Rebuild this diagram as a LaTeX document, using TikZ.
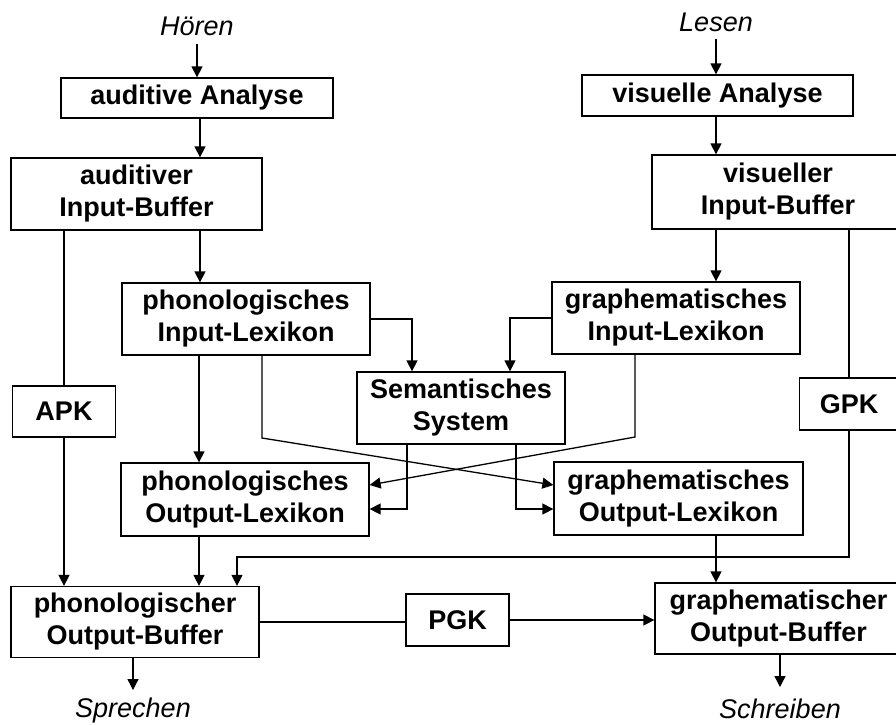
\documentclass[tikz,border=0pt]{standalone}
\usepackage{fontspec}
\setmainfont{Liberation Sans}
\usetikzlibrary{arrows.meta,calc}
\begin{document}
\begin{tikzpicture}[x=1pt,y=-1pt,
  box/.style={draw, line width=1.3pt, inner sep=0pt, align=center, font=\fontsize{27}{32}\selectfont\bfseries},
  lbl/.style={inner sep=0pt, font=\fontsize{27}{32}\selectfont\itshape},
  con/.style={line width=1.3pt},
  arr/.style={con, -{Triangle[length=11pt,width=11pt]}},
]
\clip (0,0) rectangle (896,724);
\fill[white] (0,0) rectangle (896,724);

% labels
\node[lbl] (hoeren) at (197,26) {Hören};
\node[lbl] (lesen) at (716,22) {Lesen};
\node[lbl, anchor=north] (spr) at (133,698) {Sprechen};
\node[lbl, anchor=north] (schr) at (780,699) {Schreiben};

% boxes
\node[box, minimum width=272pt, minimum height=40pt] (aa) at (197,98) {auditive Analyse};
\node[box, minimum width=251pt, minimum height=72pt] (aib) at (136.5,194) {auditiver\\Input-Buffer};
\node[box, minimum width=248pt, minimum height=72pt] (pil) at (246,319) {phonologisches\\Input-Lexikon};
\node[box, minimum width=103pt, minimum height=51pt] (apk) at (64,411.5) {APK};
\node[box, minimum width=208pt, minimum height=72pt] (sem) at (461,408) {Semantisches\\System};
\node[box, minimum width=248pt, minimum height=72pt] (gil) at (676,318) {graphematisches\\Input-Lexikon};
\node[box, minimum width=271pt, minimum height=41pt] (va) at (717.5,95.5) {visuelle Analyse};
\node[box, minimum width=252pt, minimum height=74pt] (vib) at (778,192) {visueller\\Input-Buffer};
\node[box, minimum width=99pt, minimum height=52pt] (gpk) at (849,404) {GPK};
\node[box, minimum width=248pt, minimum height=73pt] (pol) at (245,499.5) {phonologisches\\Output-Lexikon};
\node[box, minimum width=249pt, minimum height=73pt] (gol) at (678.5,498.5) {graphematisches\\Output-Lexikon};
\node[box, minimum width=248pt, minimum height=71pt] (pob) at (135,622) {phonologischer\\Output-Buffer};
\node[box, minimum width=103pt, minimum height=52pt] (pgk) at (457.5,620) {PGK};
\node[box, minimum width=247pt, minimum height=71pt] (gob) at (778.5,618.5) {graphematischer\\Output-Buffer};

% helper coordinates
\coordinate (x199) at (199,0);
\coordinate (x200) at (200,0);
\coordinate (x716) at (716,0);
\coordinate (x407) at (407,0);
\coordinate (x516) at (516,0);
\coordinate (b262) at (262,438);
\coordinate (b635) at (635,437);
\coordinate (c557) at (237,557);

% connectors
\draw[arr, shorten <=8pt] (hoeren.south) -- (aa.north);
\draw[arr] (aa.south -| x200) -- (aib.north -| x200);
\draw[con] (aib.south -| apk.north) -- (apk.north);
\draw[arr] (apk.south) -- (apk.south |- pob.north);
\draw[arr] (aib.south -| x200) -- (pil.north -| x200);

\draw[arr, shorten <=7pt] (lesen.south) -- (lesen.south |- va.north);
\draw[arr] (va.south -| x716) -- (vib.north -| x716);
\draw[arr] (vib.south -| x716) -- (gil.north -| x716);
\draw[con] (vib.south -| gpk.north) -- (gpk.north);

\draw[arr] (pil.east) -| ([xshift=-49pt]sem.north);
\draw[arr] (gil.west) -| ([xshift=49pt]sem.north);

\draw[arr] (pil.south -| x199) -- (pol.north -| x199);
\draw[arr] (pil.south -| b262) -- (b262) -- ([yshift=13.5pt]gol.west);
\draw[arr] (gil.south -| b635) -- (b635) -- ([yshift=14.5pt]pol.east);
\draw[arr] (sem.south -| x407) |- ([yshift=-9.5pt]pol.east);
\draw[arr] (sem.south -| x516) |- ([yshift=-10.5pt]gol.west);

\draw[arr] (pol.south -| x199) -- (pob.north -| x199);
\draw[arr] (gol.south -| x716) -- (gob.north -| x716);
\draw[arr] (gpk.south) |- (c557) -- (c557 |- pob.north);

\draw[con] (pob.east) -- (pob.east -| pgk.west);
\draw[arr] (pgk.east) -- (pgk.east -| gob.west);

\draw[arr, shorten >=8pt] (pob.south -| spr.north) -- (spr.north);
\draw[arr, shorten >=12pt] (gob.south -| schr.north) -- (schr.north);
\end{tikzpicture}
\end{document}
